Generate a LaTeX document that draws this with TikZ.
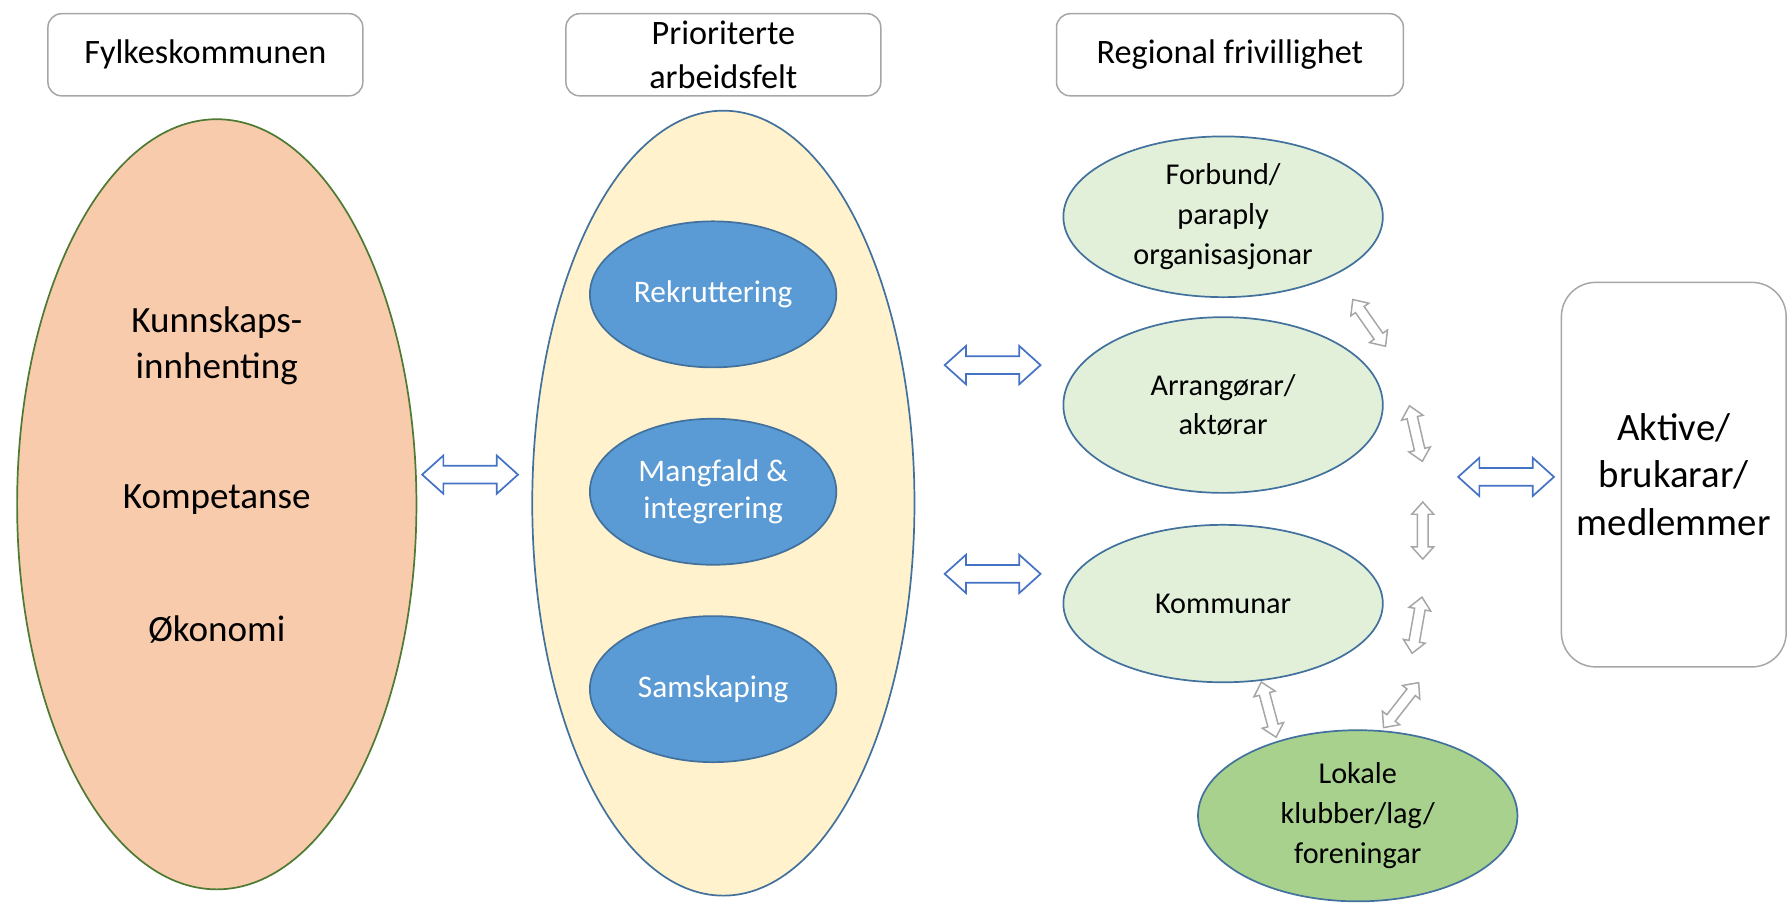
\documentclass[tikz,border=0pt]{standalone}
\usepackage{fontspec}
\setmainfont{Carlito}
\usepackage{xcolor}
\usetikzlibrary{shapes.geometric, shapes.arrows, positioning, calc}

\definecolor{peach}{HTML}{F8CBAD}
\definecolor{peachline}{HTML}{4E7A32}
\definecolor{cream}{HTML}{FFF2CC}
\definecolor{midblue}{HTML}{5B9BD5}
\definecolor{darkblue}{HTML}{41719C}
\definecolor{paleg}{HTML}{E2F0D9}
\definecolor{leafg}{HTML}{A9D18E}
\definecolor{arrowblue}{HTML}{4472C4}
\definecolor{boxgray}{HTML}{A6A6A6}

\begin{document}
\begin{tikzpicture}[x=1pt, y=-1pt,
  headbox/.style={draw=boxgray, line width=1.3pt, rounded corners=12pt, fill=white,
    minimum width=276pt, minimum height=72pt, align=center,
    font=\fontsize{30}{38}\selectfont},
  field/.style={ellipse, draw=darkblue, line width=1.5pt, fill=midblue, text=white,
    minimum width=216pt, minimum height=128pt, align=center,
    font=\fontsize{27.5}{33}\selectfont},
  actor/.style={ellipse, draw=darkblue, line width=1.5pt, fill=paleg,
    minimum width=280pt, minimum height=132pt, align=center,
    font=\fontsize{26.5}{35}\selectfont},
  link/.style={double arrow, draw=arrowblue, line width=1.5pt, fill=white,
    minimum height=84pt, inner xsep=0pt, inner ysep=7pt,
    double arrow head extend=9pt, double arrow tip angle=84},
  sublink/.style={double arrow, draw=boxgray, line width=1.3pt, fill=white,
    minimum height=50pt, inner xsep=0pt, inner ysep=4pt,
    double arrow head extend=5pt, double arrow tip angle=84}
]
  \useasboundingbox (0,0) rectangle (1568,794);

  % Headings
  \node[headbox] (fylke) at (180,48) {Fylkeskommunen};
  \node[headbox] (prio) at (634,48) {Prioriterte\\arbeidsfelt};
  \node[headbox, minimum width=304pt] (region) at (1078,48) {Regional frivillighet};

  % County
  \node[ellipse, draw=peachline, line width=1.5pt, fill=peach,
    minimum width=350pt, minimum height=675pt] (county) at (190,442) {};
  \node[font=\fontsize{32.5}{40}\selectfont, align=center] (know) at (190,303) {Kunnskaps-\\innhenting};
  \node[font=\fontsize{32.5}{40}\selectfont] (comp) at (190,438) {Kompetanse};
  \node[font=\fontsize{32.5}{40}\selectfont] (econ) at (190,552) {Økonomi};

  % Priority fields
  \node[ellipse, draw=darkblue, line width=1.5pt, fill=cream,
    minimum width=335pt, minimum height=688pt] (fields) at (634,441) {};
  \node[field] (rekrutt) at (625,258) {Rekruttering};
  \node[field] (mangfald) at (625,431) {Mangfald \&\\integrering};
  \node[field] (samskap) at (625,604) {Samskaping};

  % Regional volunteering
  \node[actor] (forbund) at (1072,190) {Forbund/\\paraply\\organisasjonar};
  \node[actor, minimum height=154pt] (arrang) at (1072,355) {Arrangørar/\\aktørar};
  \node[actor, minimum height=138pt] (kommunar) at (1072,529) {Kommunar};
  \node[actor, fill=leafg, minimum height=150pt] (lokale) at (1190,715) {Lokale\\klubber/lag/\\foreningar};

  % Members
  \node[draw=boxgray, line width=1.3pt, rounded corners=30pt, minimum width=197pt,
    minimum height=337pt, align=center, font=\fontsize{34}{42}\selectfont]
    (aktive) at (1467,416) {Aktive/\\brukarar/\\medlemmer};

  % Blue links
  \node[link] (l1) at (412,416) {};
  \node[link] (l2) at (870,320) {};
  \node[link] (l3) at (870,503) {};
  \node[link] (l4) at (1320,418) {};

  % Grey links
  \node[sublink, rotate=-55] (s1) at (1200,283) {};
  \node[sublink, rotate=-77] (s2) at (1241,380) {};
  \node[sublink, rotate=90] (s3) at (1247,465) {};
  \node[sublink, rotate=80] (s4) at (1242,548) {};
  \node[sublink, rotate=52] (s5) at (1228,618) {};
  \node[sublink, rotate=-75] (s6) at (1112,622) {};
\end{tikzpicture}
\end{document}
